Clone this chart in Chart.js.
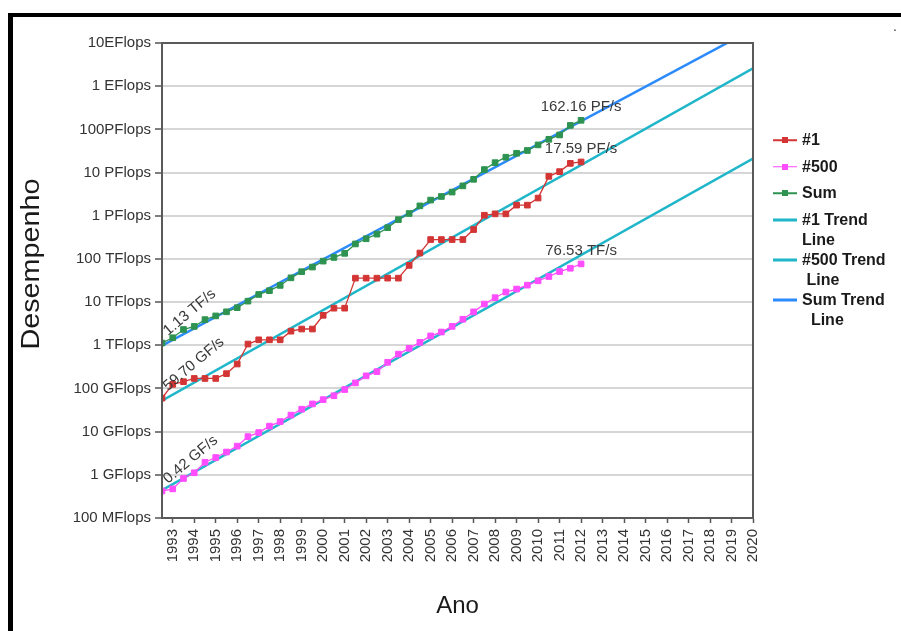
<!DOCTYPE html>
<html>
<head>
<meta charset="utf-8">
<script src="https://cdn.jsdelivr.net/npm/chart.js@4"></script>
<style>
  html, body { margin: 0; padding: 0; background: #fff; }
  #wrap { position: relative; width: 901px; height: 631px; overflow: hidden; font-family: Arial, "Liberation Sans", sans-serif; }
  #frame { position: absolute; left: 8px; top: 13px; right: -10px; bottom: -10px; border-top: 4px solid #000; border-left: 5px solid #000; }
  #chart { position: absolute; left: 0; top: 0; }
  #legend { position: absolute; left: 773px; top: 130px; font: bold 16px Arial, "Liberation Sans", sans-serif; color: #1a1a1a; }
  .item { position: relative; padding-left: 29px; line-height: 20px; margin-bottom: 6.5px; white-space: pre; }
  .item.two { margin-bottom: 0; }
  .key { position: absolute; left: 0; top: 0; width: 24px; height: 20px; }
  .ln { position: absolute; left: 0; width: 24px; top: 10px; transform: translateY(-50%); }
  .dot { position: absolute; left: 9px; top: 7px; width: 6px; height: 6px; }
  #dot { position: absolute; left: 893px; top: 18px; font-size: 14px; color: #333; }
</style>
</head>
<body>
<div id="wrap">
  <div id="frame"></div>
  <canvas id="chart" width="901" height="631"></canvas>
  <div id="legend"></div>
  <div id="dot">.</div>
</div>
<script>
// TOP500 lists, June 1993 .. November 2012
const lists = [
  '1993-06', '1993-11', '1994-06', '1994-11', '1995-06', '1995-11', '1996-06', '1996-11',
  '1997-06', '1997-11', '1998-06', '1998-11', '1999-06', '1999-11', '2000-06', '2000-11',
  '2001-06', '2001-11', '2002-06', '2002-11', '2003-06', '2003-11', '2004-06', '2004-11',
  '2005-06', '2005-11', '2006-06', '2006-11', '2007-06', '2007-11', '2008-06', '2008-11',
  '2009-06', '2009-11', '2010-06', '2010-11', '2011-06', '2011-11', '2012-06', '2012-11'
];

// Rmax in GFlops
const rank1 = [
  59.7, 124.5, 143.4, 170.4, 170.4, 170.4, 220.4, 368.2,
  1068, 1338, 1338, 1338, 2121, 2379, 2379, 4938,
  7226, 7226, 35860, 35860, 35860, 35860, 35860, 70720,
  136800, 280600, 280600, 280600, 280600, 478200, 1026000, 1105000,
  1105000, 1759000, 1759000, 2566000, 8162000, 10510000, 16320000, 17590000
];
const rank500 = [
  0.422, 0.472, 0.822, 1.114, 1.955, 2.513, 3.37, 4.62,
  7.67, 9.51, 13.39, 17.1, 24.17, 33.1, 43.82, 55.1,
  67.78, 94.3, 134.3, 195.8, 245.1, 403.4, 624, 850.6,
  1166, 1646, 2026, 2737, 4005, 5929, 9000, 12640,
  17090, 20050, 24670, 31120, 39090, 50940, 60820, 76530
];
const sumAll = [
  1128.6, 1493.4, 2317, 2732, 3927, 4784, 5958, 7422,
  10520, 15020, 18380, 24330, 36450, 50520, 64750, 88810,
  108160, 134430, 222160, 292850, 374780, 528100, 813100, 1126900,
  1690600, 2302700, 2791200, 3529100, 4920600, 6967800, 11725300, 16949300,
  22641400, 27955200, 32429900, 43671600, 58880000, 74150000, 123400000, 162160000
];

// trend lines: value (Flops) at first list and at the end of the axis (2020)
const trend1   = [5.2e10, 2.6e18];
const trend500 = [4.4e8, 2.1e16];
const trendSum = [9.8e11, 2.1e19];

const yearLabels = [
  '1993', '1994', '1995', '1996', '1997', '1998', '1999', '2000', '2001', '2002',
  '2003', '2004', '2005', '2006', '2007', '2008', '2009', '2010', '2011', '2012',
  '2013', '2014', '2015', '2016', '2017', '2018', '2019', '2020'
];
const yTickValues = [1e8, 1e9, 1e10, 1e11, 1e12, 1e13, 1e14, 1e15, 1e16, 1e17, 1e18, 1e19];
const yTickLabels = [
  '100 MFlops', '1 GFlops', '10 GFlops', '100 GFlops', '1 TFlops', '10 TFlops',
  '100 TFlops', '1 PFlops', '10 PFlops', '100PFlops', '1 EFlops', '10EFlops'
];

const firstLabels = ['59.70 GF/s', '0.42 GF/s', '1.13 TF/s'];
const lastLabels  = ['17.59 PF/s', '76.53 TF/s', '162.16 PF/s'];

const seriesNames = ['#1', '#500', 'Sum'];
const trendNames  = ['#1 Trend\nLine', '#500 Trend\n Line', 'Sum Trend\n  Line'];

const seriesColors = ['#d33535', '#ff4cff', '#2e9350'];
const trendColors  = ['#1fb6c9', '#1fb6c9', '#2b8afc'];

// axis runs in half-year steps: 0 = first list, 55 = 2020
const X_END = 55;
const FONT = 'Arial, "Liberation Sans", sans-serif';

Chart.defaults.font.family = FONT;

function toPoints(values) {
  return values.map((v, i) => ({ x: i, y: v * 1e9 }));
}

function seriesDataset(idx, values) {
  return {
    label: seriesNames[idx],
    data: toPoints(values),
    borderColor: seriesColors[idx],
    backgroundColor: seriesColors[idx],
    borderWidth: 1.3,
    pointStyle: 'rect',
    pointRadius: 4,
    pointBorderWidth: 1,
    pointBackgroundColor: seriesColors[idx],
    pointBorderColor: seriesColors[idx]
  };
}

function trendDataset(idx, ends) {
  return {
    label: trendNames[idx],
    data: [{ x: 0, y: ends[0] }, { x: X_END, y: ends[1] }],
    borderColor: trendColors[idx],
    backgroundColor: trendColors[idx],
    borderWidth: 2.5,
    pointRadius: 0
  };
}

// frame, value labels and the vertical axis title
const decorPlugin = {
  id: 'decor',
  afterDatasetsDraw(chart) {
    const { ctx, chartArea: a } = chart;
    ctx.save();
    ctx.strokeStyle = '#5a5a5a';
    ctx.lineWidth = 2;
    ctx.strokeRect(a.left, a.top, a.right - a.left, a.bottom - a.top);

    ctx.font = '15px ' + FONT;
    ctx.fillStyle = '#3a3a3a';
    [0, 1, 2].forEach(k => {
      const pts = chart.getDatasetMeta(k).data;
      const p0 = pts[0];
      const pN = pts[pts.length - 1];
      ctx.save();
      ctx.translate(p0.x + 6, p0.y - 7);
      ctx.rotate(-40 * Math.PI / 180);
      ctx.textAlign = 'left';
      ctx.textBaseline = 'alphabetic';
      ctx.fillText(firstLabels[k], 0, 0);
      ctx.restore();
      ctx.textAlign = 'center';
      ctx.textBaseline = 'middle';
      ctx.fillText(lastLabels[k], pN.x, pN.y - 13);
    });

    ctx.save();
    ctx.translate(32, 264);
    ctx.rotate(-Math.PI / 2);
    ctx.scale(1.15, 1);
    ctx.font = '25px ' + FONT;
    ctx.fillStyle = '#1a1a1a';
    ctx.textAlign = 'center';
    ctx.textBaseline = 'middle';
    ctx.fillText('Desempenho', 0, 0);
    ctx.restore();
    ctx.restore();
  }
};

const perfChart = new Chart(document.getElementById('chart'), {
  type: 'line',
  data: {
    datasets: [
      seriesDataset(0, rank1),
      seriesDataset(1, rank500),
      seriesDataset(2, sumAll),
      trendDataset(0, trend1),
      trendDataset(1, trend500),
      trendDataset(2, trendSum)
    ]
  },
  options: {
    responsive: false,
    devicePixelRatio: 1,
    animation: false,
    layout: { padding: { top: 43, right: 148, bottom: 0, left: 0 } },
    plugins: {
      legend: { display: false },
      tooltip: { enabled: false }
    },
    scales: {
      x: {
        type: 'linear',
        min: 0,
        max: X_END,
        afterBuildTicks: axis => { axis.ticks = yearLabels.map((_, k) => ({ value: 2 * k + 1 })); },
        afterFit: axis => { axis.height = 113; },
        ticks: {
          callback: (v, i) => yearLabels[i],
          autoSkip: false,
          minRotation: 90,
          maxRotation: 90,
          color: '#333',
          font: { size: 15 },
          padding: 6
        },
        grid: { drawOnChartArea: false, tickColor: '#555', tickLength: 5, tickWidth: 1.5 },
        border: { color: '#555', width: 2 },
        title: {
          display: true,
          text: 'Ano',
          color: '#1a1a1a',
          font: { size: 24 },
          padding: { top: 0, bottom: 10 }
        }
      },
      y: {
        type: 'logarithmic',
        min: 1e8,
        max: 1e19,
        afterBuildTicks: axis => { axis.ticks = yTickValues.map(v => ({ value: v })); },
        afterFit: axis => { axis.width = 162; },
        ticks: {
          callback: (v, i) => yTickLabels[i],
          autoSkip: false,
          color: '#333',
          font: { size: 15 },
          padding: 4
        },
        grid: { color: '#d6d6d6', lineWidth: 2, tickColor: '#555', tickLength: 7, tickWidth: 1.5 },
        border: { color: '#555', width: 2 }
      }
    }
  },
  plugins: [decorPlugin]
});

// HTML legend with wrapped labels
function buildLegend(chart) {
  const box = document.getElementById('legend');
  chart.data.datasets.forEach(ds => {
    const item = document.createElement('div');
    item.className = 'item' + (ds.label.includes('\n') ? ' two' : '');
    const key = document.createElement('span');
    key.className = 'key';
    const ln = document.createElement('i');
    ln.className = 'ln';
    ln.style.background = ds.borderColor;
    ln.style.height = ds.pointRadius ? '1.5px' : '3px';
    key.appendChild(ln);
    if (ds.pointRadius) {
      const dot = document.createElement('b');
      dot.className = 'dot';
      dot.style.background = ds.borderColor;
      key.appendChild(dot);
    }
    const txt = document.createElement('span');
    txt.textContent = ds.label;
    item.append(key, txt);
    box.appendChild(item);
  });
}
buildLegend(perfChart);
</script>
</body>
</html>
